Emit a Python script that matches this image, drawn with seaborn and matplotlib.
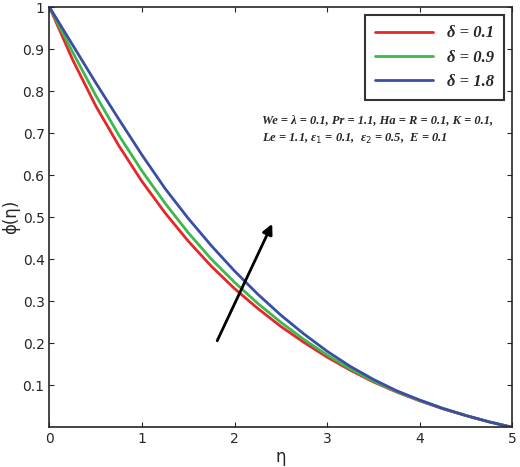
import numpy as np
import pandas as pd
import seaborn as sns
import matplotlib.pyplot as plt

eta = [0, 0.25, 0.5, 0.75, 1, 1.25, 1.5, 1.75, 2, 2.25, 2.5, 2.75, 3, 3.25, 3.5, 3.75, 4, 4.25, 4.5, 4.75, 5]
phi_d01 = [1, 0.875, 0.765, 0.67, 0.585, 0.51, 0.443, 0.383, 0.33, 0.283, 0.24, 0.202, 0.167, 0.136, 0.108, 0.084, 0.063, 0.044, 0.028, 0.013, 0]
phi_d09 = [1, 0.893, 0.79, 0.695, 0.61, 0.533, 0.463, 0.4, 0.345, 0.295, 0.25, 0.209, 0.172, 0.139, 0.11, 0.085, 0.064, 0.045, 0.028, 0.013, 0]
phi_d18 = [1, 0.91, 0.82, 0.733, 0.648, 0.568, 0.497, 0.432, 0.372, 0.317, 0.267, 0.222, 0.181, 0.145, 0.114, 0.087, 0.065, 0.045, 0.028, 0.013, 0]
labels = ["δ = 0.1", "δ = 0.9", "δ = 1.8"]
colors = ["#e8262a", "#3cb94a", "#3a4fa3"]

df = pd.concat([
    pd.DataFrame({"eta": eta, "phi": v, "case": lab})
    for v, lab in zip([phi_d01, phi_d09, phi_d18], labels)
])

sns.set_style("ticks")
fig, ax = plt.subplots(figsize=(5.2, 4.67), dpi=100)
sns.lineplot(data=df, x="eta", y="phi", hue="case", palette=colors, linewidth=2, ax=ax)

ax.set_xlim(0, 5)
ax.set_ylim(0, 1)
ax.set_xticks([0, 1, 2, 3, 4, 5])
ax.set_yticks([0.1, 0.2, 0.3, 0.4, 0.5, 0.6, 0.7, 0.8, 0.9, 1])
ax.set_yticklabels(["0.1", "0.2", "0.3", "0.4", "0.5", "0.6", "0.7", "0.8", "0.9", "1"])
ax.tick_params(direction="in", top=True, right=True, labelsize=10)
ax.set_xlabel("η", fontsize=12, labelpad=1)
ax.set_ylabel("ϕ(η)", fontsize=12, labelpad=2)
for s in ax.spines.values():
    s.set_linewidth(1.2)

leg = ax.legend(loc="upper right", frameon=True, fancybox=False,
                edgecolor="black", handlelength=3.5, borderpad=0.6,
                prop={"family": "Liberation Serif", "weight": "bold", "style": "italic", "size": 12})
leg.get_frame().set_linewidth(1.5)

ax.text(2.3, 0.745, "We = λ = 0.1, Pr = 1.1, Ha = R = 0.1, K = 0.1,\nLe = 1.1, ε$_1$ = 0.1,  ε$_2$ = 0.5,  E = 0.1",
        family="Liberation Serif", weight="bold", style="italic", fontsize=9, va="top", linespacing=1.6)
ax.annotate("", xy=(2.42, 0.49), xytext=(1.8, 0.2),
            arrowprops=dict(arrowstyle="-|>", color="black", lw=2, mutation_scale=15))

fig.subplots_adjust(left=0.095, right=0.985, top=0.985, bottom=0.085)
fig.savefig("out.png", dpi=100)
